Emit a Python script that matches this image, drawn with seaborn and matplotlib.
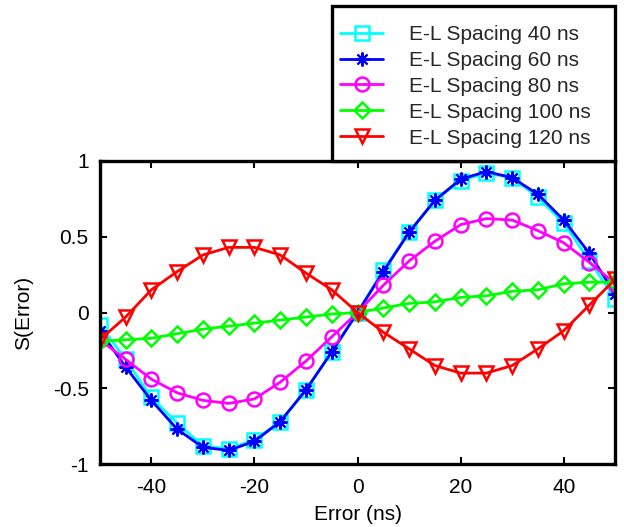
import matplotlib
matplotlib.use("Agg")
import matplotlib.pyplot as plt
import seaborn as sns
import numpy as np
import pandas as pd
from matplotlib.patches import Rectangle

sns.set_theme(style="white")
plt.rcParams['font.family'] = ['Liberation Sans', 'DejaVu Sans']

error_ns = [-50, -45, -40, -35, -30, -25, -20, -15, -10, -5, 0,
            5, 10, 15, 20, 25, 30, 35, 40, 45, 50]

s_40 = [-0.08, -0.31, -0.56, -0.73, -0.88, -0.90, -0.84, -0.72, -0.51, -0.26, 0.0,
        0.28, 0.53, 0.74, 0.87, 0.92, 0.89, 0.76, 0.59, 0.34, 0.09]
s_60 = [-0.12, -0.36, -0.58, -0.77, -0.89, -0.91, -0.85, -0.72, -0.51, -0.26, 0.0,
        0.27, 0.53, 0.74, 0.88, 0.93, 0.89, 0.78, 0.61, 0.39, 0.12]
s_80 = [-0.18, -0.31, -0.44, -0.53, -0.58, -0.60, -0.57, -0.46, -0.32, -0.16, 0.0,
        0.18, 0.34, 0.47, 0.58, 0.62, 0.61, 0.54, 0.46, 0.33, 0.19]
s_100 = [-0.19, -0.18, -0.17, -0.14, -0.11, -0.09, -0.07, -0.05, -0.03, -0.01, 0.0,
         0.03, 0.06, 0.07, 0.10, 0.11, 0.14, 0.15, 0.19, 0.20, 0.20]
s_120 = [-0.18, -0.03, 0.15, 0.27, 0.38, 0.43, 0.43, 0.38, 0.26, 0.15, 0.0,
         -0.13, -0.24, -0.35, -0.40, -0.40, -0.35, -0.24, -0.12, 0.05, 0.22]

labels = ["E-L Spacing 40 ns", "E-L Spacing 60 ns", "E-L Spacing 80 ns",
          "E-L Spacing 100 ns", "E-L Spacing 120 ns"]
series = [s_40, s_60, s_80, s_100, s_120]
colors = ["#00ffff", "#0000ff", "#ff00ff", "#00ff00", "#ff0000"]
markers = ["s", (8, 2, 0), "o", "D", "v"]
msizes = [10, 10, 10, 8, 10]
mews = [1.8, 1.5, 1.8, 1.8, 1.8]

FS = 15

fig = plt.figure(figsize=(6.24, 5.27), dpi=100)
ax = fig.add_axes([0.160, 0.1195, 0.826, 0.575])

for lab, ys, c, m, ms, mw in zip(labels, series, colors, markers, msizes, mews):
    df = pd.DataFrame({"x": error_ns, "y": ys})
    sns.lineplot(data=df, x="x", y="y", ax=ax, color=c, marker=m, markersize=ms,
                 markerfacecolor="none", markeredgecolor=c, markeredgewidth=mw,
                 linewidth=2, label=lab, legend=False)

ax.set_xlim(-50, 50)
ax.set_ylim(-1, 1)
ax.set_xticks([-40, -20, 0, 20, 40])
ax.set_yticks([-1, -0.5, 0, 0.5, 1])
ax.set_yticklabels(["-1", "-0.5", "0", "0.5", "1"])
ax.set_xticklabels(["-40", "-20", "0", "20", "40"])
ax.set_xlabel("Error (ns)", fontsize=FS, color="black", labelpad=6)
ax.set_ylabel("S(Error)", fontsize=FS, color="black", labelpad=14)
ax.tick_params(axis="both", which="both", direction="in", length=5, width=1.5,
               top=True, right=True, bottom=True, left=True, labelsize=FS,
               colors="black")
ax.tick_params(axis="x", pad=10)
ax.tick_params(axis="y", pad=8)
for sp in ax.spines.values():
    sp.set_visible(True)
    sp.set_color("black")
    sp.set_linewidth(2.4)

# legend box above the axes
x0, y0, w, h = 332/624, 1-161/527, (615-332)/624, (161-6)/527
fig.patches.append(Rectangle((x0, y0), w, h, transform=fig.transFigure,
                             facecolor="white", edgecolor="black", linewidth=2.4,
                             zorder=0))
handles, labs = ax.get_legend_handles_labels()
leg = fig.legend(handles, labs, loc="upper left",
                 bbox_to_anchor=((332 + 8) / 624, 1 - 25 / 527),
                 frameon=False, fontsize=FS, handlelength=2.07, handletextpad=1.25,
                 labelspacing=0.33, borderpad=0.0, borderaxespad=0.0)

fig.savefig("out.png", dpi=100, facecolor="white")
